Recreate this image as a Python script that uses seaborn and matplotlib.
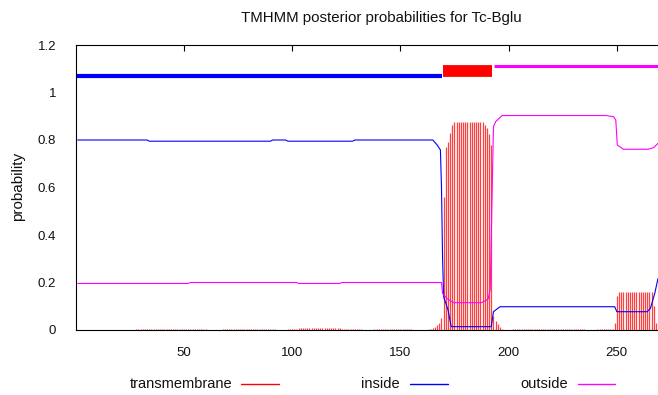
import numpy as np
import matplotlib
matplotlib.use("Agg")
import matplotlib.pyplot as plt
import seaborn as sns
from matplotlib.lines import Line2D

# posterior probability of transmembrane state, one value per residue (1..269)
tm_prob = [
    0, 0, 0, 0, 0, 0, 0, 0, 0, 0,
    0, 0, 0, 0, 0, 0, 0, 0, 0, 0,
    0, 0, 0, 0, 0, 0, 0, .004, .004, .004,
    .004, .004, .004, .004, .004, .004, .004, .004, .004, .004,
    .004, .004, .004, .004, .004, .004, .004, .004, .004, .004,
    .004, .004, .004, .004, .004, .004, .004, .004, .004, .004,
    0, 0, 0, 0, 0, 0, 0, .004, .004, .004,
    .004, .004, .004, .004, .004, .004, .004, .004, .004, .004,
    .004, .004, .004, .004, .004, .004, .004, .004, .004, .004,
    .004, .004, 0, 0, 0, 0, 0, .005, .005, .005,
    .005, .005, .01, .01, .01, .01, .01, .01, .01, .01,
    .01, .01, .01, .01, .01, .01, .01, .01, .01, .01,
    .01, .01, .005, .005, .005, .005, .005, .005, .005, .005,
    .005, .005, 0, 0, 0, 0, 0, .004, .004, .004,
    .004, .004, .004, .004, .004, .004, .004, .004, .004, .004,
    .004, .004, .004, .004, .004, 0, 0, 0, 0, 0,
    0, 0, .004, .006, .008, .012, .02, .03, .05, .56,
    .77, .79, .83, .865, .875, .875, .875, .875, .875, .875,
    .875, .875, .875, .875, .875, .875, .875, .875, .865, .85,
    .825, .78, .06, .04, .025, .012, .005, 0, 0, 0,
    0, .004, .004, .004, .004, .004, .004, .004, .004, .004,
    .004, .004, .004, .004, .004, .004, .004, .004, .004, .004,
    .004, .004, .004, .004, .004, .004, .004, .004, .004, .004,
    .004, .004, .004, .004, .004, 0, 0, 0, 0, 0,
    .004, .004, .004, .004, .004, .004, .004, .004, .03, .145,
    .162, .162, .162, .162, .162, .162, .162, .162, .162, .162,
    .162, .162, .162, .162, .162, .16, .1, .03, 0,
]

# inside / outside posterior curves (breakpoints)
inside_x = [1, 33, 34, 90, 91, 97, 98, 128, 129, 165, 167, 168.5, 169, 169.5, 170,
            172, 173.5, 192, 193, 195, 196, 249, 250, 264, 265.5, 267.5, 269]
inside_y = [.8, .8, .795, .795, .8, .8, .795, .795, .8, .8, .779, .758, .6, .3, .14,
            .085, .014, .014, .077, .091, .098, .098, .077, .077, .091, .154, .217]

outside_x = [1, 52, 53, 102, 103, 122, 123, 169, 169.5, 171.5, 174.5, 187.5, 190.5,
             191.5, 193, 194, 197, 245, 248.5, 249.5, 250.2, 253, 264.5, 267, 269]
outside_y = [.196, .196, .2, .2, .196, .196, .2, .2, .154, .133, .115, .115, .13,
             .17, .856, .877, .903, .903, .898, .884, .779, .761, .761, .768, .786]

# predicted topology drawn above the curves
topo_start = [0, 169.7, 193.3]
topo_end = [169.1, 192.3, 269]
topo_level = [1.07, 1.09, 1.11]

x_ticks = [50, 100, 150, 200, 250]
y_ticks = [0, 0.2, 0.4, 0.6, 0.8, 1.0, 1.2]
y_ticklabels = ["0", "0.2", "0.4", "0.6", "0.8", "1", "1.2"]
legend_labels = ["transmembrane", "inside", "outside"]

RED, BLUE, MAG = "#ff0000", "#0000ff", "#ff00ff"

sns.set_style("white")
plt.rcParams["font.family"] = ["Liberation Sans", "DejaVu Sans"]

W, H = 658, 395
fig = plt.figure(figsize=(W / 100, H / 100), dpi=100)
ax = fig.add_axes([75.6 / W, 1 - 330 / H, (W - 75.6) / W, 285 / H])

# impulses, a bit transparent so they read pink with red stripes
residues = np.arange(1, len(tm_prob) + 1)
ax.vlines(residues, 0, tm_prob, colors=RED, lw=0.9, alpha=0.75)

sns.lineplot(x=inside_x, y=inside_y, ax=ax, color=BLUE, lw=0.8,
             sort=False, estimator=None)
sns.lineplot(x=outside_x, y=outside_y, ax=ax, color=MAG, lw=0.8,
             sort=False, estimator=None)

# topology bars
ax.hlines(topo_level[0], topo_start[0], topo_end[0], colors=BLUE, lw=3, capstyle="butt")
ax.hlines(topo_level[1], topo_start[1], topo_end[1], colors=RED, lw=8.5, capstyle="butt")
ax.hlines(topo_level[2], topo_start[2], topo_end[2], colors=MAG, lw=2.2, capstyle="butt")

ax.set_xlim(0, 269)
ax.set_ylim(0, 1.2)
ax.set_xticks(x_ticks)
ax.set_xticklabels([str(t) for t in x_ticks])
ax.set_yticks(y_ticks)
ax.set_yticklabels(y_ticklabels)
ax.set_xlabel("")
ax.set_ylabel("")

ax.tick_params(axis="both", direction="in", length=4, width=0.8, color="black",
               labelsize=9.5, labelcolor="#111111", top=True, right=False)
ax.tick_params(axis="x", pad=12)
ax.tick_params(axis="y", pad=14)

for side in ["left", "bottom", "top"]:
    ax.spines[side].set_color("black")
    ax.spines[side].set_linewidth(0.8)
ax.spines["right"].set_visible(False)

fig.text(381 / W, 1 - 18 / H, "TMHMM posterior probabilities for Tc-Bglu",
         ha="center", va="center", fontsize=10.8, color="#111111")
fig.text(18 / W, 1 - 186 / H, "probability", rotation=90,
         ha="center", va="center", fontsize=11, color="#111111")

# key below the plot: label first, then line sample
ly = 1 - 384 / H
key = [(232, 241, 279, RED), (400, 410, 448, BLUE), (568, 578, 615, MAG)]
for lab, (tx, x0, x1, col) in zip(legend_labels, key):
    fig.text(tx / W, ly, lab, ha="right", va="center", fontsize=10.5, color="#111111")
    fig.add_artist(Line2D([x0 / W, x1 / W], [ly, ly], transform=fig.transFigure,
                          color=col, lw=1))

fig.savefig("out.png", dpi=100)
